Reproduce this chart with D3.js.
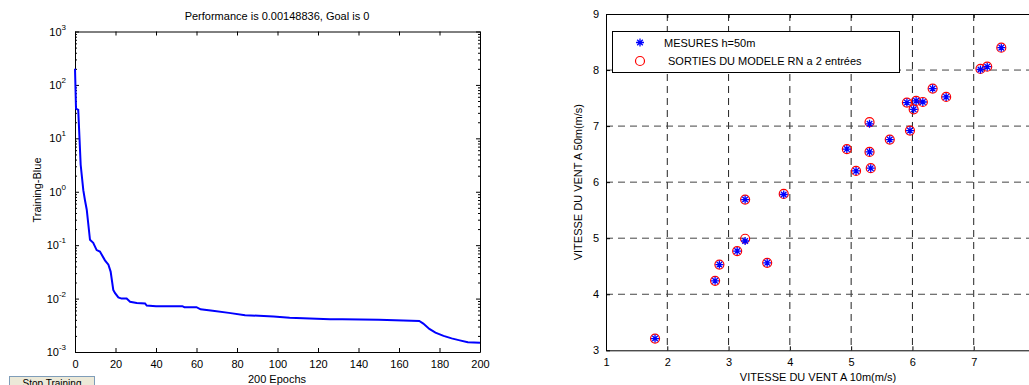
<!DOCTYPE html>
<html>
<head>
<meta charset="utf-8">
<script src="https://cdn.jsdelivr.net/npm/d3@7"></script>
<style>
  body { margin: 0; background: #fff; overflow: hidden; }
  svg { display: block; font-family: "Liberation Sans", Arial, sans-serif; }
</style>
</head>
<body>
<svg id="chart" width="1029" height="385"></svg>
<script>
// training curve (epoch, performance)
const trainEpochs = [0, 0.5, 1.6, 2.8, 4.1, 4.9, 5.8, 7.4, 9, 10.7, 12.3, 14.8, 16.5, 17.6, 18.9, 19.8, 21.4, 23, 25.5, 27.2, 30.5, 34.6, 35.4, 40, 53, 54, 60, 62, 68, 76, 84, 98, 106, 126, 132, 150, 170, 172, 175, 178, 182, 186, 190, 194, 200];
const trainPerf = [200, 36, 34, 3.2, 1.07, 0.70, 0.46, 0.126, 0.111, 0.081, 0.076, 0.052, 0.043, 0.032, 0.0145, 0.0126, 0.0105, 0.0100, 0.0100, 0.0087, 0.0083, 0.0081, 0.0074, 0.0072, 0.0072, 0.0069, 0.0069, 0.0063, 0.0059, 0.0054, 0.0049, 0.0046, 0.0044, 0.0041, 0.0041, 0.0040, 0.0038, 0.0034, 0.0027, 0.0023, 0.0020, 0.0018, 0.00165, 0.00152, 0.00149];
const epochTicks = [0, 20, 40, 60, 80, 100, 120, 140, 160, 180, 200];
const perfDecades = [-3, -2, -1, 0, 1, 2, 3];

// wind speed scatter
const vent10 = [1.80, 2.78, 2.85, 3.14, 3.27, 3.27, 3.63, 3.90, 4.93, 5.08, 5.32, 5.30, 5.30, 5.63, 5.96, 5.91, 6.06, 6.17, 6.02, 6.33, 6.55, 7.11, 7.22, 7.45];
const mesures50 = [3.21, 4.24, 4.53, 4.77, 4.95, 5.69, 4.56, 5.78, 6.59, 6.20, 6.25, 6.54, 7.04, 6.76, 6.92, 7.42, 7.45, 7.43, 7.30, 7.67, 7.52, 8.01, 8.06, 8.40];
const modele50 = [3.21, 4.24, 4.53, 4.77, 4.99, 5.69, 4.56, 5.79, 6.59, 6.20, 6.25, 6.54, 7.07, 6.76, 6.92, 7.42, 7.45, 7.43, 7.30, 7.67, 7.52, 8.02, 8.06, 8.40];
const xTicks = [1, 2, 3, 4, 5, 6, 7, 8];
const yTicks = [3, 4, 5, 6, 7, 8, 9];

const svg = d3.select('#chart');
const fs = 11;

//
// LEFT: training performance
//
const xL = d3.scaleLinear().domain([0, 200]).range([75, 480]);
const yL = d3.scaleLog().domain([1e-3, 1e3]).range([352, 31.5]);

const left = svg.append('g');

left.append('text')
  .attr('x', 277).attr('y', 20)
  .attr('text-anchor', 'middle')
  .attr('font-size', fs)
  .text('Performance is 0.00148836, Goal is 0');

// minor ticks on log axis
const minor = [];
perfDecades.slice(0, -1).forEach((p) => {
  for (let k = 2; k <= 9; k++) minor.push(k * Math.pow(10, p));
});

left.append('g')
  .attr('transform', `translate(${xL(0)},0)`)
  .call(d3.axisLeft(yL).tickValues(minor).tickSize(-2).tickFormat(''))
  .call((g) => g.select('.domain').remove());
left.append('g')
  .attr('transform', `translate(${xL(200)},0)`)
  .call(d3.axisRight(yL).tickValues(minor).tickSize(-2).tickFormat(''))
  .call((g) => g.select('.domain').remove());

left.append('g')
  .attr('transform', `translate(${xL(0)},0)`)
  .call(d3.axisLeft(yL).tickValues(perfDecades.map((p) => Math.pow(10, p))).tickSizeInner(-4).tickSizeOuter(0).tickFormat(''));
left.append('g')
  .attr('transform', `translate(${xL(200)},0)`)
  .call(d3.axisRight(yL).tickValues(perfDecades.map((p) => Math.pow(10, p))).tickSizeInner(-4).tickSizeOuter(0).tickFormat(''));

left.append('g')
  .attr('transform', `translate(0,${yL(1e-3)})`)
  .call(d3.axisBottom(xL).tickValues(epochTicks).tickSizeInner(-4).tickSizeOuter(0).tickPadding(8))
  .call((g) => g.selectAll('text').attr('font-size', fs).attr('font-family', null).attr('dy', '0.71em'));
left.append('g')
  .attr('transform', `translate(0,${yL(1e3)})`)
  .call(d3.axisTop(xL).tickValues(epochTicks).tickSizeInner(-4).tickSizeOuter(0).tickFormat(''));

// decade labels 10^n
const decLab = left.append('g').attr('font-size', fs);
perfDecades.forEach((p) => {
  const t = decLab.append('text')
    .attr('x', 66).attr('y', yL(Math.pow(10, p)) + 4)
    .attr('text-anchor', 'end');
  t.append('tspan').text('10');
  t.append('tspan').attr('dy', -6).attr('font-size', 8).text(p);
});

left.selectAll('.domain').attr('stroke', '#000');

const line = d3.line()
  .x((d, i) => xL(trainEpochs[i]))
  .y((d) => yL(d));

left.append('path')
  .datum(trainPerf)
  .attr('fill', 'none')
  .attr('stroke', '#0000ff')
  .attr('stroke-width', 2)
  .attr('d', line);

left.append('text')
  .attr('transform', 'translate(41,190) rotate(-90)')
  .attr('text-anchor', 'middle')
  .attr('font-size', fs)
  .text('Training-Blue');

left.append('text')
  .attr('x', 277).attr('y', 383)
  .attr('text-anchor', 'middle')
  .attr('font-size', fs)
  .text('200 Epochs');

// stop training button (cut at bottom)
left.append('rect')
  .attr('x', 9.5).attr('y', 376.5).attr('width', 85).attr('height', 14)
  .attr('fill', '#ece9d8').attr('stroke', '#7f9db9');
left.append('text')
  .attr('x', 52).attr('y', 387)
  .attr('text-anchor', 'middle')
  .attr('font-size', 10)
  .text('Stop Training');

//
// RIGHT: scatter
//
const xR = d3.scaleLinear().domain([1, 8]).range([606, 1035]);
const yR = d3.scaleLinear().domain([3, 9]).range([350.3, 14]);

const right = svg.append('g');

// grid
right.append('g')
  .selectAll('line')
  .data(xTicks.filter((v) => v > 1 && v < 8))
  .join('line')
  .attr('x1', (d) => xR(d)).attr('x2', (d) => xR(d))
  .attr('y1', yR(9)).attr('y2', yR(3))
  .attr('stroke', '#222').attr('stroke-width', 1)
  .attr('stroke-dasharray', '7,5');
right.append('g')
  .selectAll('line')
  .data(yTicks.filter((v) => v > 3 && v < 9))
  .join('line')
  .attr('x1', xR(1)).attr('x2', xR(8))
  .attr('y1', (d) => yR(d)).attr('y2', (d) => yR(d))
  .attr('stroke', '#444').attr('stroke-width', 1)
  .attr('stroke-dasharray', '7,5');

// the window cuts the plot just before x = 8, so that label is not drawn
right.append('g')
  .attr('transform', `translate(0,${yR(3)})`)
  .call(d3.axisBottom(xR).tickValues(xTicks.filter((v) => v < 8)).tickFormat(d3.format('d')).tickSizeInner(-4).tickSizeOuter(0).tickPadding(8))
  .call((g) => g.selectAll('text').attr('font-size', fs).attr('font-family', null).attr('dy', '0.71em'));
right.append('g')
  .attr('transform', `translate(0,${yR(9)})`)
  .call(d3.axisTop(xR).tickValues(xTicks).tickSizeInner(-4).tickSizeOuter(0).tickFormat(''));
right.append('g')
  .attr('transform', `translate(${xR(1)},0)`)
  .call(d3.axisLeft(yR).tickValues(yTicks).tickFormat(d3.format('d')).tickSizeInner(-4).tickSizeOuter(0).tickPadding(7))
  .call((g) => g.selectAll('text').attr('font-size', fs).attr('font-family', null));

right.selectAll('.domain').attr('stroke', '#000');

// model outputs: red circles
right.append('g')
  .selectAll('circle')
  .data(modele50)
  .join('circle')
  .attr('cx', (d, i) => xR(vent10[i]))
  .attr('cy', (d) => yR(d))
  .attr('r', 4.5)
  .attr('fill', 'none')
  .attr('stroke', '#ff0000')
  .attr('stroke-width', 1.2);

// measurements: blue stars
function starPath(s) {
  const r = s, d = s * 0.7;
  return `M${-r},0L${r},0M0,${-r}L0,${r}M${-d},${-d}L${d},${d}M${-d},${d}L${d},${-d}`;
}
right.append('g')
  .selectAll('path')
  .data(mesures50)
  .join('path')
  .attr('transform', (d, i) => `translate(${xR(vent10[i])},${yR(d)})`)
  .attr('d', starPath(4))
  .attr('fill', 'none')
  .attr('stroke', '#0000ff')
  .attr('stroke-width', 1.3);

// legend
const lg = right.append('g');
lg.append('rect')
  .attr('x', 612.5).attr('y', 31.5).attr('width', 287).attr('height', 41)
  .attr('fill', '#fff').attr('stroke', '#000');
lg.append('path')
  .attr('transform', 'translate(640,42.5)')
  .attr('d', starPath(4))
  .attr('fill', 'none').attr('stroke', '#0000ff').attr('stroke-width', 1.3);
lg.append('circle')
  .attr('cx', 640).attr('cy', 61).attr('r', 4.5)
  .attr('fill', 'none').attr('stroke', '#ff0000').attr('stroke-width', 1.2);
lg.append('text')
  .attr('x', 664).attr('y', 46.5).attr('font-size', fs)
  .text('MESURES h=50m');
lg.append('text')
  .attr('x', 668).attr('y', 65).attr('font-size', fs)
  .text('SORTIES DU MODELE RN a 2 entrées');

right.append('text')
  .attr('transform', `translate(582,${(yR(3) + yR(9)) / 2}) rotate(-90)`)
  .attr('text-anchor', 'middle')
  .attr('font-size', fs)
  .text('VITESSE DU VENT A 50m(m/s)');

right.append('text')
  .attr('x', 818).attr('y', 381)
  .attr('text-anchor', 'middle')
  .attr('font-size', fs)
  .text('VITESSE DU VENT A 10m(m/s)');
</script>
</body>
</html>
